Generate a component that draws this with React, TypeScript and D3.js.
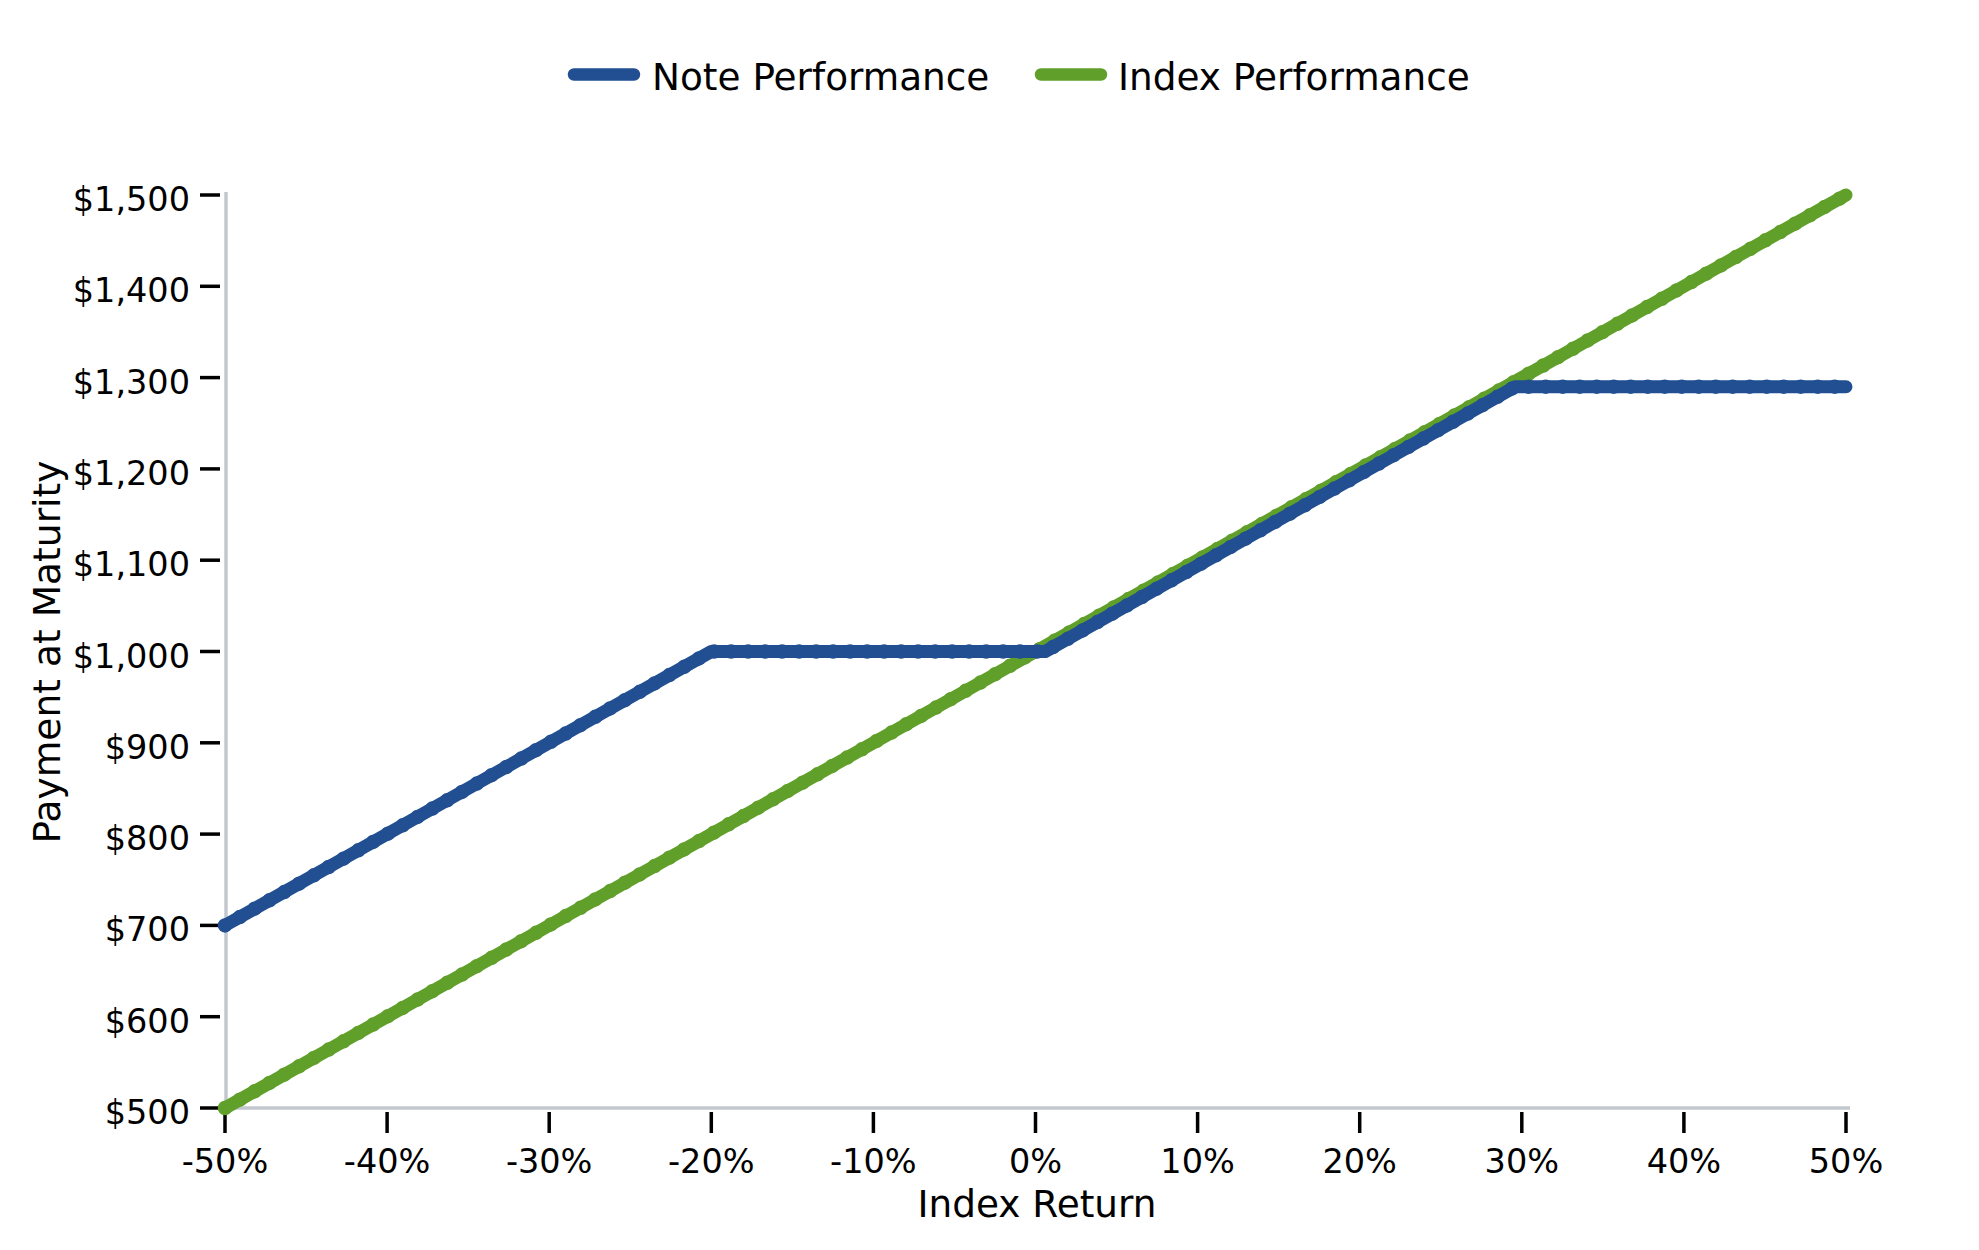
import React from "react";
import * as d3 from "d3";

const xTickValues = [-50, -40, -30, -20, -10, 0, 10, 20, 30, 40, 50];
const xTickLabels = ["-50%", "-40%", "-30%", "-20%", "-10%", "0%", "10%", "20%", "30%", "40%", "50%"];
const yTickValues = [500, 600, 700, 800, 900, 1000, 1100, 1200, 1300, 1400, 1500];
const yTickLabels = ["$500", "$600", "$700", "$800", "$900", "$1,000", "$1,100", "$1,200", "$1,300", "$1,400", "$1,500"];

// Index Performance
const indexReturns = [-50, 50];
const indexPayments = [500, 1500];
// Note Performance
const noteReturns = [-50, -20, 0.6, 29.6, 50];
const notePayments = [700, 1000, 1000, 1290, 1290];

const seriesNames = ["Note Performance", "Index Performance"];
const seriesColors = ["#214f91", "#60a02a"];

const W = 1979;
const H = 1250;
const FONT = "DejaVu Sans, sans-serif";

export default function App() {
  const x = d3.scaleLinear().domain([-50, 50]).range([225, 1846]);
  const y = d3.scaleLinear().domain([500, 1500]).range([1108, 195]);

  const line = d3
    .line<[number, number]>()
    .x((d) => x(d[0]))
    .y((d) => y(d[1]));

  const indexPts: [number, number][] = indexReturns.map((r, i) => [r, indexPayments[i]]);
  const notePts: [number, number][] = noteReturns.map((r, i) => [r, notePayments[i]]);

  const series = [
    { pts: indexPts, color: seriesColors[1] },
    { pts: notePts, color: seriesColors[0] },
  ];

  const legend = [
    { name: seriesNames[0], color: seriesColors[0], x0: 574, x1: 634, tx: 652 },
    { name: seriesNames[1], color: seriesColors[1], x0: 1041, x1: 1101, tx: 1118 },
  ];

  const [x0, x1] = x.range();
  const [yb, yt] = y.range();

  return (
    <svg
      width={W}
      height={H}
      viewBox={`0 0 ${W} ${H}`}
      style={{ position: "absolute", left: 0, top: 0, background: "#fff" }}
      fontFamily={FONT}
    >
      <rect x={0} y={0} width={W} height={H} fill="#fff" />

      {/* legend */}
      {legend.map((l) => (
        <g key={l.name}>
          <line x1={l.x0} x2={l.x1} y1={74.5} y2={74.5} stroke={l.color} strokeWidth={12.5} strokeLinecap="round" />
          <text x={l.tx} y={90} fontSize={37.4} fill="#000">
            {l.name}
          </text>
        </g>
      ))}

      {/* axes lines */}
      <line x1={x0 + 1} x2={x0 + 1} y1={yt - 3} y2={yb} stroke="#c2c8ce" strokeWidth={3.5} />
      <line x1={x0 + 1} x2={x1 + 4} y1={yb} y2={yb} stroke="#c2c8ce" strokeWidth={3.5} />

      {/* y ticks */}
      {yTickValues.map((v, i) => (
        <g key={"y" + v}>
          <line x1={200} x2={220} y1={y(v)} y2={y(v)} stroke="#000" strokeWidth={3.5} />
          <text x={190} y={y(v) + 16} textAnchor="end" fontSize={33.5} fill="#000">
            {yTickLabels[i]}
          </text>
        </g>
      ))}

      {/* x ticks */}
      {xTickValues.map((v, i) => (
        <g key={"x" + v}>
          <line x1={x(v)} x2={x(v)} y1={1112} y2={1133} stroke="#000" strokeWidth={3.5} />
          <text x={x(v)} y={1173} textAnchor="middle" fontSize={33.5} fill="#000">
            {xTickLabels[i]}
          </text>
        </g>
      ))}

      {/* axis titles */}
      <text x={1037} y={1217} textAnchor="middle" fontSize={37.4} fill="#000">
        Index Return
      </text>
      <text
        transform={`translate(60, 652) rotate(-90)`}
        textAnchor="middle"
        fontSize={37.6}
        fill="#000"
      >
        Payment at Maturity
      </text>

      {/* series */}
      {series.map((s, i) => (
        <g key={"s" + i}>
          <path
            d={line(s.pts) || ""}
            fill="none"
            stroke={s.color}
            strokeWidth={13}
            strokeLinecap="round"
            strokeLinejoin="round"
          />
          <path
            d={line(s.pts) || ""}
            fill="none"
            stroke={s.color}
            strokeWidth={14.5}
            strokeLinecap="round"
            strokeDasharray="0 17"
          />
        </g>
      ))}
    </svg>
  );
}
